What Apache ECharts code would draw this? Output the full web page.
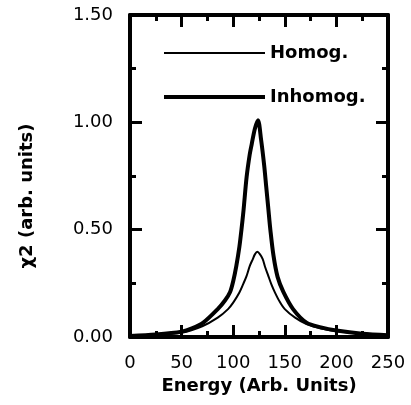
<!DOCTYPE html>
<html>
<head>
<meta charset="utf-8">
<script src="https://cdn.jsdelivr.net/npm/echarts@6/dist/echarts.min.js"></script>
<style>
  html, body { margin: 0; padding: 0; background: #fff; }
  #chart { width: 411px; height: 405px; }
</style>
</head>
<body>
<div id="chart"></div>
<script>
// values
var energyHomog = [0, 25, 50, 70, 85, 95, 100, 106, 110, 113, 116, 119, 121, 123.4, 126, 128.6, 131, 134, 137, 140.5, 145, 150, 160, 171, 185, 200, 225, 250];
var valueHomog = [0.005, 0.01, 0.02, 0.05, 0.09, 0.13, 0.16, 0.207, 0.25, 0.285, 0.33, 0.363, 0.385, 0.397, 0.385, 0.363, 0.325, 0.285, 0.245, 0.207, 0.165, 0.13, 0.09, 0.06, 0.04, 0.028, 0.014, 0.008];

var energyInhomog = [0, 25, 50, 60, 71, 85, 92, 97, 100, 103, 106, 108, 110, 113, 116, 118, 121, 124, 127, 130, 132, 134, 136, 139, 143, 148.6, 158, 171, 185, 200, 225, 250];
var valueInhomog = [0.005, 0.012, 0.025, 0.04, 0.067, 0.13, 0.17, 0.21, 0.26, 0.33, 0.42, 0.5, 0.59, 0.745, 0.85, 0.9, 0.97, 1.01, 0.92, 0.8, 0.7, 0.6, 0.5, 0.38, 0.28, 0.21, 0.13, 0.067, 0.045, 0.03, 0.015, 0.008];

var seriesNames = ['Homog.', 'Inhomog.'];
var xTitle = 'Energy (Arb. Units)';
var yTitle = 'χ2 (arb. units)';

function zip(xs, ys) {
    var out = [];
    for (var i = 0; i < xs.length; i++) {
        out.push([xs[i], ys[i]]);
    }
    return out;
}

var font = 'DejaVu Sans';

// one side of the box: thick line, inward ticks, minor ticks
function frameAxis(extra) {
    var a = {
        type: 'value',
        axisLine: { onZero: false, lineStyle: { color: '#000', width: 4 } },
        axisTick: { show: true, inside: true, length: 12, lineStyle: { color: '#000', width: 3 } },
        minorTick: { show: true, splitNumber: 2, length: 6, lineStyle: { color: '#000', width: 3 } },
        axisLabel: { show: false },
        splitLine: { show: false }
    };
    for (var k in extra) {
        a[k] = extra[k];
    }
    return a;
}

var myChart = echarts.init(document.getElementById('chart'));
var option = {
    backgroundColor: '#fff',
    animation: false,
    grid: { left: 130, right: 23, top: 15, bottom: 68 },
    legend: {
        orient: 'vertical',
        left: 157,
        top: 39,
        itemWidth: 101,
        itemHeight: 4,
        itemGap: 26,
        itemStyle: { opacity: 0 },
        lineStyle: { width: 'inherit' },
        textStyle: { fontFamily: font, fontWeight: 'bold', fontSize: 18, lineHeight: 18, color: '#000' },
        data: seriesNames
    },
    xAxis: [
        frameAxis({
            min: 0, max: 250, interval: 50,
            name: xTitle, nameLocation: 'middle', nameGap: 28,
            nameTextStyle: { fontFamily: font, fontWeight: 'bold', fontSize: 18, color: '#000' },
            axisLabel: { margin: 17, fontFamily: font, fontSize: 18, color: '#000' }
        }),
        frameAxis({ position: 'top', min: 0, max: 250, interval: 50 })
    ],
    yAxis: [
        frameAxis({
            min: 0, max: 1.5, interval: 0.5,
            axisLabel: {
                margin: 17, fontFamily: font, fontSize: 18, color: '#000',
                formatter: function (v) { return v.toFixed(2); }
            }
        }),
        frameAxis({ position: 'right', min: 0, max: 1.5, interval: 0.5 })
    ],
    graphic: [
        {
            type: 'text', x: 27, y: 196, rotation: Math.PI / 2,
            style: {
                text: yTitle, fontFamily: font, fontWeight: 'bold', fontSize: 18,
                fill: '#000', align: 'center', verticalAlign: 'middle'
            }
        }
    ],
    series: [
        {
            name: seriesNames[0],
            type: 'line',
            smooth: 0.3,
            showSymbol: false,
            color: '#000',
            lineStyle: { color: '#000', width: 2 },
            data: zip(energyHomog, valueHomog)
        },
        {
            name: seriesNames[1],
            type: 'line',
            smooth: 0.3,
            showSymbol: false,
            color: '#000',
            lineStyle: { color: '#000', width: 4 },
            data: zip(energyInhomog, valueInhomog)
        }
    ]
};
myChart.setOption(option);
</script>
</body>
</html>
